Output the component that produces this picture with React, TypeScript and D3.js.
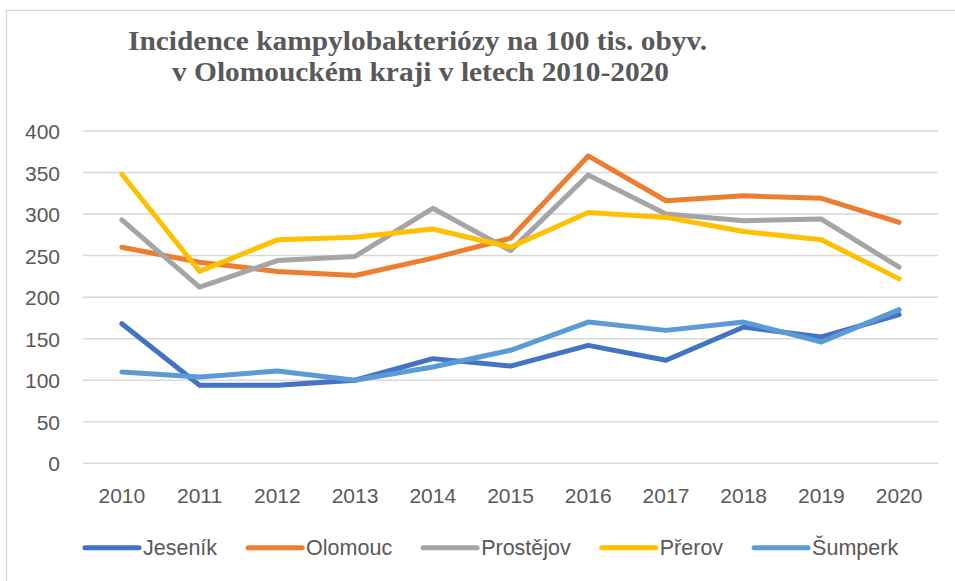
import React, { useEffect, useRef } from "react";
import * as d3 from "d3";

// roky na ose X
const years = ["2010", "2011", "2012", "2013", "2014", "2015", "2016", "2017", "2018", "2019", "2020"];
const yTicks = [0, 50, 100, 150, 200, 250, 300, 350, 400];

// hodnoty
const jesenik = [168, 94, 94, 100, 126, 117, 142, 124, 164, 152, 179];
const olomouc = [260, 242, 231, 226, 247, 271, 370, 316, 322, 319, 290];
const prostejov = [293, 212, 244, 249, 307, 256, 347, 300, 292, 294, 236];
const prerov = [348, 231, 269, 272, 282, 260, 302, 296, 279, 269, 222];
const sumperk = [110, 104, 111, 100, 116, 136, 170, 160, 170, 146, 185];

const seriesNames = ["Jeseník", "Olomouc", "Prostějov", "Přerov", "Šumperk"];
const seriesColors = ["#4472C4", "#ED7D31", "#A5A5A5", "#FFC000", "#5B9BD5"];

const titleLines = [
  "Incidence kampylobakteriózy na 100 tis. obyv.",
  "v Olomouckém kraji v letech 2010-2020",
];

const W = 955;
const H = 581;

const App = () => {
  const chartRef = useRef<SVGSVGElement>(null);

  useEffect(() => {
    const svg = d3.select(chartRef.current);
    svg.selectAll("*").remove();

    const textColor = "#595959";
    const font = "'Liberation Sans', Arial, sans-serif";

    // rámeček grafu
    svg
      .append("rect")
      .attr("x", 6.5)
      .attr("y", 10.5)
      .attr("width", W + 10)
      .attr("height", H + 10)
      .attr("fill", "#fff")
      .attr("stroke", "#d9d9d9")
      .attr("stroke-width", 1.3);

    // titulek
    const titleWidths = [579, 497];
    const titleCenters = [417.5, 420.5];
    const titleBase = [50, 81];
    titleLines.forEach((t, i) => {
      svg
        .append("text")
        .attr("x", titleCenters[i])
        .attr("y", titleBase[i])
        .attr("text-anchor", "middle")
        .attr("font-family", "'Liberation Serif', 'Times New Roman', serif")
        .attr("font-weight", "bold")
        .attr("font-size", 27)
        .attr("fill", textColor)
        .attr("textLength", titleWidths[i])
        .attr("lengthAdjust", "spacingAndGlyphs")
        .text(t);
    });

    const xScale = d3.scaleBand().domain(years).range([83, 938]);
    const yScale = d3.scaleLinear().domain([0, 400]).range([463.3, 131]);

    // mřížka
    svg
      .append("g")
      .selectAll("line")
      .data(yTicks)
      .enter()
      .append("line")
      .attr("x1", 83)
      .attr("x2", 938)
      .attr("y1", (d) => yScale(d))
      .attr("y2", (d) => yScale(d))
      .attr("stroke", "#d9d9d9")
      .attr("stroke-width", 1.5);

    // osa Y
    const yAxis = svg
      .append("g")
      .attr("transform", "translate(60,0)")
      .call(d3.axisLeft(yScale).tickValues(yTicks).tickSize(0).tickPadding(0));
    yAxis.select(".domain").remove();
    yAxis
      .selectAll("text")
      .attr("font-family", font)
      .attr("font-size", 21)
      .attr("fill", textColor)
      .attr("dy", "0.36em");

    // osa X
    const xAxis = svg
      .append("g")
      .attr("transform", "translate(0,463.3)")
      .call(d3.axisBottom(xScale).tickSize(0).tickPadding(0));
    xAxis.select(".domain").remove();
    xAxis
      .selectAll("text")
      .attr("font-family", font)
      .attr("font-size", 21)
      .attr("fill", textColor)
      .attr("dy", 0)
      .attr("y", 39.5);

    // čáry
    const allSeries = [jesenik, olomouc, prostejov, prerov, sumperk];
    const line = d3
      .line<number>()
      .x((_, i) => (xScale(years[i]) as number) + xScale.bandwidth() / 2)
      .y((d) => yScale(d));

    allSeries.forEach((s, i) => {
      svg
        .append("path")
        .datum(s)
        .attr("d", line)
        .attr("fill", "none")
        .attr("stroke", seriesColors[i])
        .attr("stroke-width", 5)
        .attr("stroke-linejoin", "round")
        .attr("stroke-linecap", "round");
    });

    // legenda
    const legend = svg.append("g");
    let lx = 85;
    const ly = 547.7;
    seriesNames.forEach((name, i) => {
      legend
        .append("line")
        .attr("x1", lx)
        .attr("x2", lx + 54)
        .attr("y1", ly)
        .attr("y2", ly)
        .attr("stroke", seriesColors[i])
        .attr("stroke-width", 5)
        .attr("stroke-linecap", "round");
      const txt = legend
        .append("text")
        .attr("x", lx + 58)
        .attr("y", ly)
        .attr("dy", "0.36em")
        .attr("font-family", font)
        .attr("font-size", 21.5)
        .attr("fill", textColor)
        .text(name);
      const w = (txt.node() as SVGTextElement).getComputedTextLength();
      lx = lx + 58 + w + 31;
    });
  }, []);

  return (
    <svg
      ref={chartRef}
      width={W}
      height={H}
      style={{ position: "absolute", left: 0, top: 0, background: "#fff" }}
    />
  );
};

export default App;
